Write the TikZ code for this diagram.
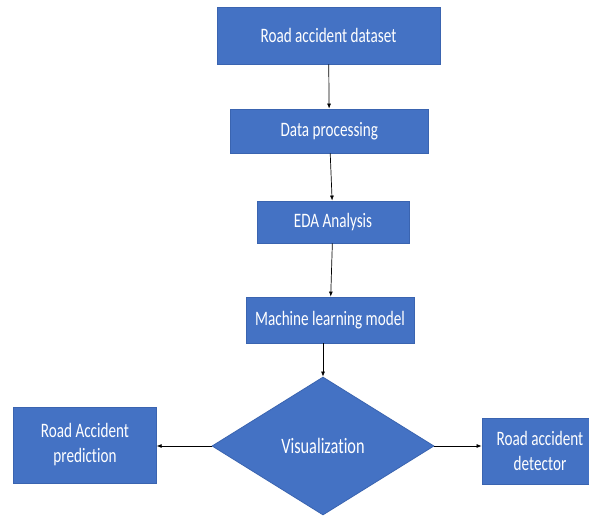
\documentclass[tikz,border=0pt]{standalone}
\usepackage{fontspec}
\setmainfont{Carlito}[FakeStretch=0.74,Ligatures={NoCommon}]
\usetikzlibrary{shapes.geometric,arrows.meta}
\definecolor{boxblue}{HTML}{4472C4}
\definecolor{boxedge}{HTML}{3A64B0}
\begin{document}
\begin{tikzpicture}[x=1pt,y=-1pt,
  box/.style={rectangle,fill=boxblue,draw=boxedge,line width=0.8pt,
    text=white,inner sep=0pt,align=center,
    font=\fontsize{20.5}{25}\selectfont},
  decision/.style={diamond,fill=boxblue,draw=boxedge,line width=0.8pt,
    text=white,inner sep=0pt,aspect=1.6,
    minimum width=222pt,minimum height=138pt,
    font=\fontsize{22}{26}\selectfont},
  arr/.style={draw=black,line width=0.7pt,-{Latex[length=5pt,width=4pt]}}]
\fill[white] (0,0) rectangle (589,518);
\useasboundingbox (0,0) rectangle (589,518);
\clip (0,0) rectangle (589,518);
\node[box,minimum width=223pt,minimum height=57pt] (b1) at (328.5,35.5) {Road accident dataset};
\node[box,minimum width=197.5pt,minimum height=44pt] (b2) at (329.3,131) {Data processing};
\node[box,minimum width=152pt,minimum height=42pt] (b3) at (333,222) {EDA Analysis};
\node[box,minimum width=168pt,minimum height=46pt] (b4) at (330,320) {Machine learning model};
\node[decision] (d) at (323,446) {Visualization};
\node[box,minimum width=142.5pt,minimum height=76pt] (l) at (85,445) {Road Accident\\prediction};
\node[box,minimum width=116pt,minimum height=66pt] (r) at (540,451) {Road accident\\detector};
\draw[arr] (b1) -- (b2);
\draw[arr] (b2) -- (b3);
\draw[arr] (b3) -- (b4);
\draw[arr] (b4.south -| d.north) -- (d.north);
\draw[arr] (d.west) -- (d.west -| l.east);
\draw[arr] (d.east) -- (d.east -| r.west);
\end{tikzpicture}
\end{document}
